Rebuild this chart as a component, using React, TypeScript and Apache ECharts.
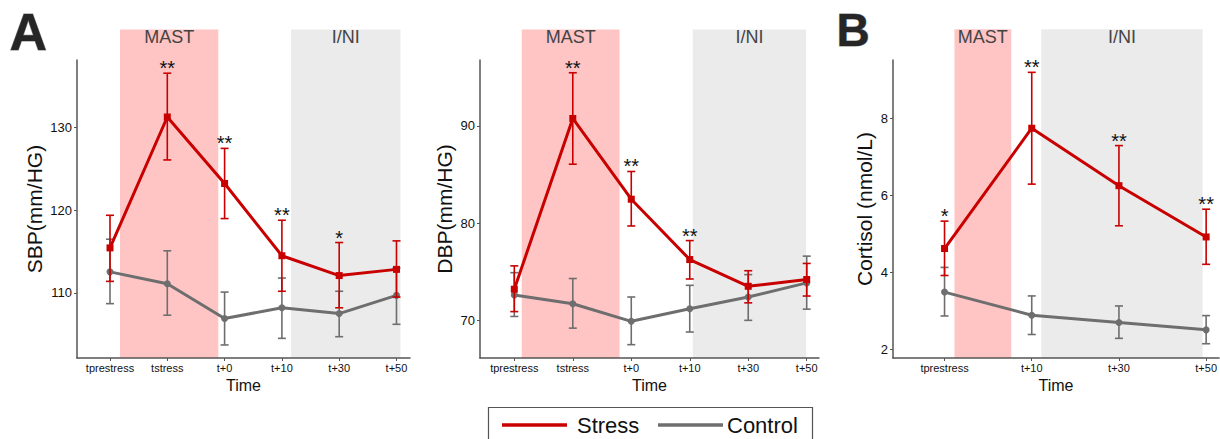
import React, { useEffect, useRef } from "react";
import * as echarts from "echarts";

const FONT = "Liberation Sans, Arial, sans-serif";
const RED = "#c80000";
const GRAY = "#6e6e6e";

// Panel A – SBP
const sbpCats = ["tprestress", "tstress", "t+0", "t+10", "t+30", "t+50"];
const sbpStress = [115.45, 131.3, 123.25, 114.5, 112.1, 112.85];
const sbpStressHi = [119.4, 136.6, 127.5, 118.8, 116.1, 116.3];
const sbpStressLo = [111.4, 126.1, 119.0, 110.2, 108.2, 109.5];
const sbpControl = [112.55, 111.1, 106.9, 108.2, 107.5, 109.7];
const sbpControlHi = [116.5, 115.1, 110.1, 111.8, 110.2, 113.0];
const sbpControlLo = [108.7, 107.3, 103.7, 104.5, 104.7, 106.2];
const sbpStars = ["", "**", "**", "**", "*", ""];
const sbpTicks = [110, 120, 130];
const sbpBands = [[1.175, 2.89], [4.16, 6.07]];

// Panel A – DBP
const dbpCats = ["tprestress", "tstress", "t+0", "t+10", "t+30", "t+50"];
const dbpStress = [73.2, 90.75, 82.45, 76.25, 73.5, 74.2];
const dbpStressHi = [75.6, 95.45, 85.3, 78.2, 75.1, 75.85];
const dbpStressLo = [70.9, 86.05, 79.7, 74.25, 71.8, 72.5];
const dbpControl = [72.6, 71.7, 69.9, 71.2, 72.4, 73.85];
const dbpControlHi = [74.9, 74.3, 72.4, 73.6, 74.7, 76.6];
const dbpControlLo = [70.4, 69.2, 67.5, 68.8, 70.0, 71.15];
const dbpStars = ["", "**", "**", "**", "", ""];
const dbpTicks = [70, 80, 90];
const dbpBands = [[1.127, 2.8], [4.05, 5.99]];

// Panel B – Cortisol
const corCats = ["tprestress", "t+10", "t+30", "t+50"];
const corStress = [4.62, 7.74, 6.25, 4.92];
const corStressHi = [5.33, 9.19, 7.29, 5.64];
const corStressLo = [3.92, 6.29, 5.21, 4.21];
const corControl = [3.49, 2.89, 2.7, 2.51];
const corControlHi = [4.13, 3.39, 3.13, 2.88];
const corControlLo = [2.87, 2.39, 2.29, 2.15];
const corStars = ["*", "**", "**", "**"];
const corTicks = [2, 4, 6, 8];
const corBands = [[1.114, 1.765], [2.11, 3.96]];

const bandLabels = ["MAST", "I/NI"];
const bandColors = ["#ffc4c4", "#ebebeb"];

const panels = [
  {
    cats: sbpCats, stress: sbpStress, sHi: sbpStressHi, sLo: sbpStressLo,
    control: sbpControl, cHi: sbpControlHi, cLo: sbpControlLo, stars: sbpStars,
    ticks: sbpTicks, bands: sbpBands, bandTop: 141.9,
    left: 77, width: 333, xMin: 0.424, xMax: 6.236, yMin: 102.12, yMax: 138.2,
    name: "SBP(mm/HG)", nameGap: 32,
  },
  {
    cats: dbpCats, stress: dbpStress, sHi: dbpStressHi, sLo: dbpStressLo,
    control: dbpControl, cHi: dbpControlHi, cLo: dbpControlLo, stars: dbpStars,
    ticks: dbpTicks, bands: dbpBands, bandTop: 99.9,
    left: 480, width: 339, xMin: 0.4135, xMax: 6.21, yMin: 66.13, yMax: 96.76,
    name: "DBP(mm/HG)", nameGap: 25,
  },
  {
    cats: corCats, stress: corStress, sHi: corStressHi, sLo: corStressLo,
    control: corControl, cHi: corControlHi, cLo: corControlLo, stars: corStars,
    ticks: corTicks, bands: corBands, bandTop: 10.31,
    left: 893, width: 329, xMin: 0.409, xMax: 4.148, yMin: 1.78, yMax: 9.51,
    name: "Cortisol (nmol/L)", nameGap: 18,
  },
];

function buildOption() {
  const grid: any[] = [];
  const xAxis: any[] = [];
  const yAxis: any[] = [];
  const series: any[] = [];

  panels.forEach((p, i) => {
    const idx = p.cats.map((_, k) => k + 1);
    grid.push({ left: p.left, width: p.width, top: 60, height: 298, containLabel: false });
    xAxis.push({
      type: "value", gridIndex: i, min: p.xMin, max: p.xMax,
      name: "Time", nameLocation: "middle", nameGap: 16,
      nameTextStyle: { fontFamily: FONT, fontSize: 16, color: "#111" },
      axisLine: { show: true, lineStyle: { color: "#555", width: 1.5 } },
      axisTick: { show: true, customValues: idx, length: 3, lineStyle: { color: "#555" } },
      axisLabel: {
        customValues: idx, margin: 4, fontFamily: FONT, fontSize: 11, color: "#111",
        formatter: (v: number) => p.cats[Math.round(v) - 1] ?? "",
      },
      splitLine: { show: false },
    });
    yAxis.push({
      type: "value", gridIndex: i, min: p.yMin, max: p.yMax,
      name: p.name, nameLocation: "middle", nameGap: p.nameGap, nameRotate: 90,
      nameTextStyle: { fontFamily: FONT, fontSize: 21, color: "#111" },
      axisLine: { show: true, lineStyle: { color: "#555", width: 1.5 } },
      axisTick: { show: true, customValues: p.ticks, length: 3, lineStyle: { color: "#555" } },
      axisLabel: { customValues: p.ticks, margin: 5, fontFamily: FONT, fontSize: 13, color: "#111" },
      splitLine: { show: false },
    });

    // background bands with labels
    series.push({
      type: "custom", xAxisIndex: i, yAxisIndex: i, clip: false, z: 0, silent: true,
      data: p.bands.map((b) => [b[0], b[1]]),
      renderItem: (params: any, api: any) => {
        const a = api.coord([api.value(0), p.bandTop]);
        const b = api.coord([api.value(1), p.yMin]);
        const k = params.dataIndex;
        return {
          type: "group",
          children: [
            { type: "rect", shape: { x: a[0], y: a[1], width: b[0] - a[0], height: b[1] - a[1] }, style: { fill: bandColors[k] } },
            {
              type: "text", x: (a[0] + b[0]) / 2, y: a[1] + 8,
              style: { text: bandLabels[k], fontFamily: FONT, fontSize: 18, fill: "#444", align: "center", verticalAlign: "middle" },
            },
          ],
        };
      },
    });

    const errSeries = (lo: number[], hi: number[], color: string, z: number) => ({
      type: "custom", xAxisIndex: i, yAxisIndex: i, clip: false, z, silent: true,
      data: idx.map((x, k) => [x, lo[k], hi[k]]),
      renderItem: (_params: any, api: any) => {
        const l = api.coord([api.value(0), api.value(1)]);
        const h = api.coord([api.value(0), api.value(2)]);
        const st = { stroke: color, lineWidth: 1.6 };
        return {
          type: "group",
          children: [
            { type: "line", shape: { x1: l[0], y1: l[1], x2: h[0], y2: h[1] }, style: st },
            { type: "line", shape: { x1: l[0] - 4, y1: l[1], x2: l[0] + 4, y2: l[1] }, style: st },
            { type: "line", shape: { x1: h[0] - 4, y1: h[1], x2: h[0] + 4, y2: h[1] }, style: st },
          ],
        };
      },
    });

    series.push(errSeries(p.cLo, p.cHi, GRAY, 2));
    series.push({
      type: "line", name: "Control", xAxisIndex: i, yAxisIndex: i, z: 3,
      data: idx.map((x, k) => [x, p.control[k]]),
      symbol: "circle", symbolSize: 7, itemStyle: { color: GRAY },
      lineStyle: { color: GRAY, width: 3 },
    });
    series.push(errSeries(p.sLo, p.sHi, RED, 4));
    series.push({
      type: "line", name: "Stress", xAxisIndex: i, yAxisIndex: i, z: 5,
      data: idx.map((x, k) => [x, p.stress[k]]),
      symbol: "rect", symbolSize: 7, itemStyle: { color: RED },
      lineStyle: { color: RED, width: 3 },
    });
    series.push({
      type: "custom", xAxisIndex: i, yAxisIndex: i, clip: false, z: 6, silent: true,
      data: idx.map((x, k) => [x, p.sHi[k]]),
      renderItem: (params: any, api: any) => {
        const s = p.stars[params.dataIndex];
        if (!s) return null;
        const c = api.coord([api.value(0), api.value(1)]);
        return {
          type: "text", x: c[0], y: c[1] - 5,
          style: { text: s, fontFamily: FONT, fontSize: 20, fill: "#111", align: "center", verticalAlign: "middle" },
        };
      },
    });
  });

  const graphic: any[] = [
    {
      type: "text", left: 9, top: 5,
      style: { text: "A", fontFamily: FONT, fontSize: 52, fontWeight: "bold", fill: "#262626", stroke: "#8a8a8a", lineWidth: 1 },
    },
    {
      type: "text", left: 836, top: 6,
      style: { text: "B", fontFamily: FONT, fontSize: 46, fontWeight: "bold", fill: "#262626", stroke: "#8a8a8a", lineWidth: 1 },
    },
    {
      type: "rect", shape: { x: 488.5, y: 407.5, width: 324, height: 40 },
      style: { fill: "#fff", stroke: "#555", lineWidth: 1.2 },
    },
    { type: "line", shape: { x1: 502, y1: 425, x2: 567, y2: 425 }, style: { stroke: RED, lineWidth: 3.5 } },
    {
      type: "text", x: 577, y: 425,
      style: { text: "Stress", fontFamily: FONT, fontSize: 22, fill: "#111", verticalAlign: "middle" },
    },
    { type: "line", shape: { x1: 658, y1: 425, x2: 723, y2: 425 }, style: { stroke: GRAY, lineWidth: 3.5 } },
    {
      type: "text", x: 727, y: 425,
      style: { text: "Control", fontFamily: FONT, fontSize: 22, fill: "#111", verticalAlign: "middle" },
    },
  ];

  return { animation: false, backgroundColor: "#fff", grid, xAxis, yAxis, series, graphic };
}

export default function App() {
  const ref = useRef<HTMLDivElement>(null);
  useEffect(() => {
    if (!ref.current) return;
    const chart = echarts.init(ref.current, null, { renderer: "svg" });
    chart.setOption(buildOption() as any);
    return () => chart.dispose();
  }, []);
  return <div ref={ref} style={{ width: 1220, height: 439, position: "absolute", left: 0, top: 0 }} />;
}
